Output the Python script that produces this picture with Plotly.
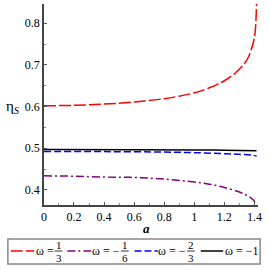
import plotly.graph_objects as go

# ---- data ----
a_red = [0, 0.2, 0.4, 0.6, 0.8, 0.9, 1.0, 1.1, 1.2, 1.28, 1.35, 1.39, 1.405, 1.414]
eta_red = [0.602, 0.603, 0.606, 0.611, 0.619, 0.625, 0.633, 0.645, 0.662, 0.683, 0.712, 0.75, 0.78, 0.85]

a_purple = [0, 0.2, 0.4, 0.6, 0.8, 1.0, 1.1, 1.2, 1.3, 1.35, 1.39, 1.414]
eta_purple = [0.434, 0.433, 0.431, 0.430, 0.426, 0.419, 0.414, 0.406, 0.395, 0.387, 0.377, 0.364]

a_blue = [0, 0.4, 0.8, 1.0, 1.2, 1.3, 1.38, 1.414]
eta_blue = [0.4925, 0.492, 0.491, 0.4895, 0.487, 0.4855, 0.484, 0.481]

a_black = [0, 0.6, 1.0, 1.2, 1.414]
eta_black = [0.497, 0.4965, 0.496, 0.4955, 0.494]

x_ticks = [0, 0.2, 0.4, 0.6, 0.8, 1.0, 1.2, 1.4]
x_tick_labels = ["0", "0.2", "0.4", "0.6", "0.8", "1", "1.2", "1.4"]
y_ticks = [0.4, 0.5, 0.6, 0.7, 0.8]
y_tick_labels = ["0.4", "0.5", "0.6", "0.7", "0.8"]

W = H = 270
FONT = "Liberation Serif, Times New Roman, serif"

def px(x):
    return x / W

def py(y):
    return 1 - y / H

series = [
    (a_red, eta_red, "red", "12px,3px"),
    (a_purple, eta_purple, "#800080", "8px,3px,2px,3px"),
    (a_blue, eta_blue, "blue", "7px,3px"),
    (a_black, eta_black, "black", "solid"),
]

fig = go.Figure()
for xs, ys, col, dash in series:
    fig.add_trace(go.Scatter(x=xs, y=ys, mode="lines", line=dict(color=col, width=1.5, dash=dash, shape="spline"),
                             showlegend=False, hoverinfo="skip"))

fig.update_layout(
    width=W, height=H,
    margin=dict(l=0, r=0, t=0, b=0),
    paper_bgcolor="white", plot_bgcolor="white",
    font=dict(family=FONT, size=12, color="black"),
    xaxis=dict(domain=[px(42), px(262)], range=[0, 1.425], tickvals=x_ticks, ticktext=x_tick_labels,
               ticks="inside", ticklen=3, tickcolor="#555", showgrid=False, zeroline=False,
               showline=True, linecolor="#444", linewidth=1.5,
               tickfont=dict(family=FONT, size=12),
               minor=dict(dtick=0.1, ticks="inside", ticklen=2, tickcolor="#888")),
    yaxis=dict(domain=[py(205), py(4)], range=[0.364, 0.846], tickvals=y_ticks, ticktext=y_tick_labels,
               ticks="inside", ticklen=3, tickcolor="#555", showgrid=False, zeroline=False,
               showline=True, linecolor="#444", linewidth=1.5,
               tickfont=dict(family=FONT, size=12),
               minor=dict(dtick=0.05, ticks="inside", ticklen=2, tickcolor="#888")),
)

ann = []
shapes = []

def text_at(x, y, t, size):
    ann.append(dict(x=px(x), y=py(y), xref="paper", yref="paper", text=t, showarrow=False,
                    xanchor="center", yanchor="middle", font=dict(family=FONT, size=size)))

# axis titles
text_at(147, 228, "<b><i>a</i></b>", 13)
text_at(10, 107, "η<sub><i>S</i></sub>", 15)

# legend box
shapes.append(dict(type="rect", xref="paper", yref="paper", x0=px(5), x1=px(264), y0=py(239), y1=py(264),
                   line=dict(color="#888", width=1.5), fillcolor="white"))

ymid = 251
legend_items = [
    (8, 32, "red", "12px,3px", 43, "ω =", "1", "3", 57),
    (66, 91, "#800080", "8px,3px,2px,3px", 106, "ω = −", "1", "6", 125),
    (135, 159, "blue", "7px,3px", 174, "ω = −", "2", "3", 193),
]
for x0, x1, col, dash, tx, lab, num, den, fx in legend_items:
    shapes.append(dict(type="line", xref="paper", yref="paper", x0=px(x0), x1=px(x1), y0=py(ymid), y1=py(ymid),
                       line=dict(color=col, width=1.5, dash=dash)))
    text_at(tx, ymid, lab, 12)
    text_at(fx, 244.5, num, 11)
    text_at(fx, 258, den, 11)
    shapes.append(dict(type="line", xref="paper", yref="paper", x0=px(fx - 4), x1=px(fx + 4), y0=py(ymid), y1=py(ymid),
                       line=dict(color="black", width=0.8)))

shapes.append(dict(type="line", xref="paper", yref="paper", x0=px(203), x1=px(226), y0=py(ymid), y1=py(ymid),
                   line=dict(color="black", width=1.5)))
text_at(245, ymid, "ω = −1", 12)

fig.update_layout(annotations=ann, shapes=shapes)
fig.write_html("out.html", config={"displayModeBar": False},
               post_script="document.body.style.margin='0';document.body.style.overflow='hidden';")
